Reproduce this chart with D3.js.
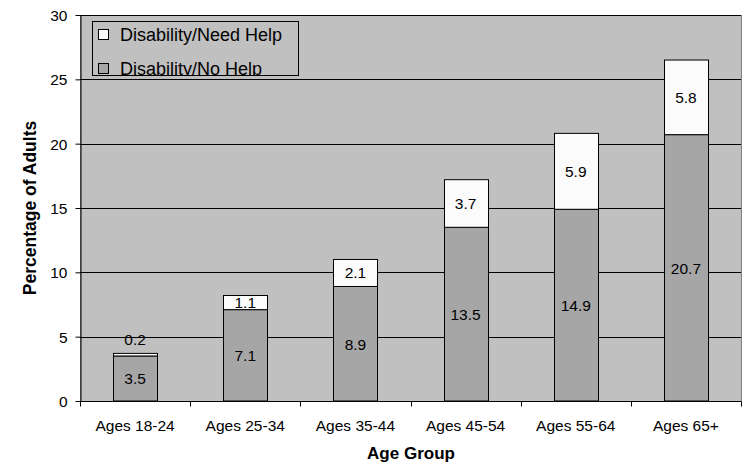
<!DOCTYPE html>
<html><head><meta charset="utf-8">
<script src="https://cdn.jsdelivr.net/npm/d3@7"></script>
<style>body{margin:0;background:#fff}svg{display:block}text{font-family:"Liberation Sans",Arial,sans-serif}</style>
</head><body><svg id="c" width="747" height="465"></svg>
<script>
const categories = ["Ages 18-24","Ages 25-34","Ages 35-44","Ages 45-54","Ages 55-64","Ages 65+"];
const noHelp = [3.5, 7.1, 8.9, 13.5, 14.9, 20.7];
const needHelp = [0.2, 1.1, 2.1, 3.7, 5.9, 5.8];
const yTicks = [0,5,10,15,20,25,30];
const seriesNames = ["Disability/Need Help","Disability/No Help"];

const svg = d3.select("#c");
const m = {l:80, r:6, t:15, b:64};
const W = 747, H = 465;
const x = d3.scaleBand().domain(categories).range([m.l, W-m.r]).paddingInner(0.6).paddingOuter(0.3);
const xb = d3.scaleBand().domain(categories).range([m.l, W-m.r]);
const y = d3.scaleLinear().domain([0,30]).range([H-m.b, m.t]);
const FS = 15.5;

// plot background
svg.append("rect").attr("x",m.l+0.5).attr("y",m.t+0.5).attr("width",W-m.r-m.l).attr("height",H-m.b-m.t)
  .attr("fill","#c0c0c0").attr("stroke","#808080");
// gridlines
svg.append("g").selectAll("line").data(yTicks.filter(d=>d>0)).join("line")
  .attr("x1",m.l).attr("x2",W-m.r).attr("y1",d=>Math.round(y(d))+0.5).attr("y2",d=>Math.round(y(d))+0.5)
  .attr("stroke","#000").attr("stroke-width",1);

const data = categories.map((c,i)=>({c, a:noHelp[i], b:needHelp[i]}));
const g = svg.append("g");
g.selectAll("rect.a").data(data).join("rect").attr("class","a")
  .attr("x",d=>Math.round(x(d.c))+0.5).attr("width",Math.round(x.bandwidth()))
  .attr("y",d=>y(d.a)).attr("height",d=>y(0)-y(d.a))
  .attr("fill","#a6a6a6").attr("stroke","#000");
g.selectAll("rect.b").data(data).join("rect").attr("class","b")
  .attr("x",d=>Math.round(x(d.c))+0.5).attr("width",Math.round(x.bandwidth()))
  .attr("y",d=>y(d.a+d.b)).attr("height",d=>y(d.a)-y(d.a+d.b))
  .attr("fill","#fbfbfb").attr("stroke","#000");

// value labels
g.selectAll("text.a").data(data).join("text").attr("class","a")
  .attr("x",d=>x(d.c)+x.bandwidth()/2).attr("y",d=>(y(0)+y(d.a))/2+6)
  .attr("text-anchor","middle").attr("font-size",FS).text(d=>d.a);
g.selectAll("text.b").data(data).join("text").attr("class","b")
  .attr("x",d=>x(d.c)+x.bandwidth()/2)
  .attr("y",d=> (y(d.a)-y(d.a+d.b))<14 ? y(d.a+d.b)-8 : (y(d.a)+y(d.a+d.b))/2+5.5)
  .attr("text-anchor","middle").attr("font-size",FS).text(d=>d.b);

// y axis
const ya = svg.append("g").attr("transform",`translate(${m.l+0.5},0)`)
  .call(d3.axisLeft(y).tickValues(yTicks).tickSize(5).tickSizeOuter(0).tickPadding(8));
ya.select(".domain").attr("stroke","#000");
ya.selectAll("line").attr("stroke","#000");
ya.selectAll("text").attr("font-size",FS).attr("fill","#000").attr("dy","0.36em").style("font-family","'Liberation Sans',Arial,sans-serif");
// x axis
const xa = svg.append("g").attr("transform",`translate(0,${Math.round(y(0))+0.5})`);
xa.append("line").attr("x1",m.l).attr("x2",W-m.r).attr("stroke","#000");
const bounds = categories.map(c=>xb(c)).concat([W-m.r]);
xa.selectAll("line.t").data(bounds).join("line").attr("class","t")
  .attr("x1",d=>Math.round(d)+0.5).attr("x2",d=>Math.round(d)+0.5).attr("y1",0).attr("y2",5).attr("stroke","#000");
xa.selectAll("text").data(categories).join("text")
  .attr("x",d=>xb(d)+xb.bandwidth()/2).attr("y",29).attr("text-anchor","middle").attr("font-size",FS).text(d=>d);

// axis titles
svg.append("text").attr("x",411).attr("y",459).attr("text-anchor","middle")
  .attr("font-size",17).attr("font-weight","bold").text("Age Group");
svg.append("text").attr("transform",`translate(36,208) rotate(-90)`).attr("text-anchor","middle")
  .attr("font-size",17.5).attr("font-weight","bold").text("Percentage of Adults");

// legend
const lg = svg.append("g");
svg.append("clipPath").attr("id","lc").append("rect").attr("x",92).attr("y",21).attr("width",207).attr("height",54);
lg.append("rect").attr("x",92.5).attr("y",21.5).attr("width",206).attr("height",54)
  .attr("fill","#c0c0c0");
const li = lg.append("g").attr("clip-path","url(#lc)");
const legFill = ["#fbfbfb","#a6a6a6"];
seriesNames.forEach((s,i)=>{
  li.append("rect").attr("x",98.5).attr("y",29.5+i*34).attr("width",10).attr("height",10)
    .attr("fill",legFill[i]).attr("stroke","#000");
  li.append("text").attr("x",120).attr("y",40.5+i*34).attr("font-size",18).text(s);
});
lg.append("rect").attr("x",92.5).attr("y",21.5).attr("width",206).attr("height",54)
  .attr("fill","none").attr("stroke","#000");
</script></body></html>
